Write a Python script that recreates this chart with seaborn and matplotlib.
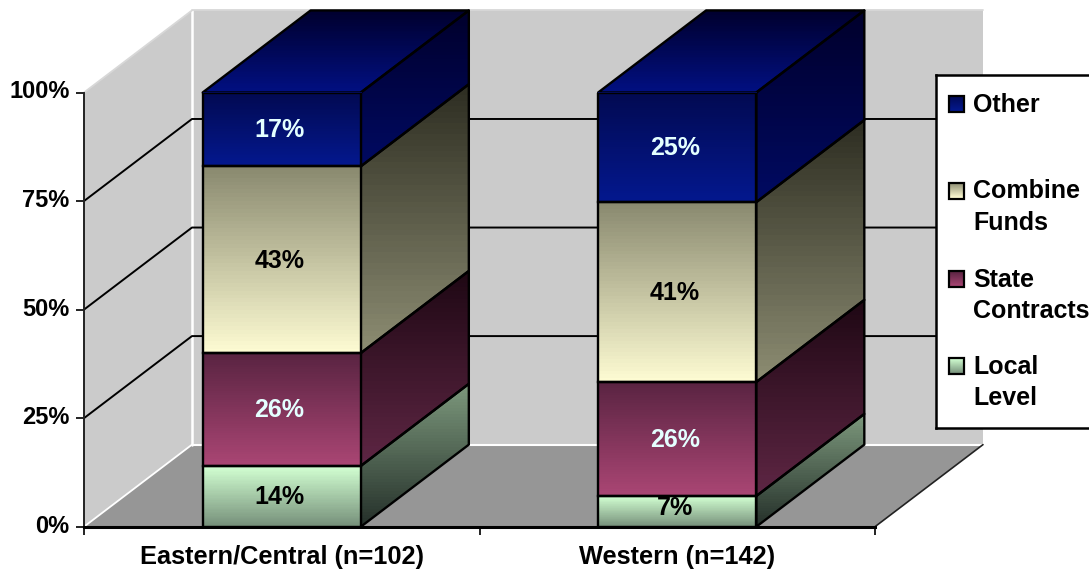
import numpy as np
import matplotlib
matplotlib.use("Agg")
import matplotlib.pyplot as plt
from matplotlib.colors import LinearSegmentedColormap
from matplotlib.patches import Polygon, Rectangle
from matplotlib.transforms import ScaledTranslation
import seaborn as sns

# Survey shares, in percent, bottom segment first
regions = ["Eastern/Central (n=102)", "Western (n=142)"]
series_names = ["Local Level", "State Contracts", "Combine Funds", "Other"]
local_level = [14, 7]
state_contracts = [26, 26]
combine_funds = [43, 41]
other = [17, 25]
percent_ticks = [0, 25, 50, 75, 100]

# (top colour, bottom colour) of each segment's gradients
front_colors = [("#d2ffd2", "#76907a"), ("#5a2442", "#aa4674"),
                ("#8a8a70", "#fdfbd2"), ("#020a52", "#04188e")]
side_colors = [("#7c987c", "#25302a"), ("#1f0814", "#5e2644"),
               ("#2e2e22", "#8c8c72"), ("#00002c", "#000a62")]
label_colors = ["black", "#e4ffff", "black", "#e4ffff"]
top_colors = ("#00002e", "#021082")

WALL = "#cbcbcb"
FLOOR = "#969696"
BAR_WIDTH = 0.4
DEPTH_X = 0.273   # receding offset, in category units
DEPTH_Y = 18.9    # receding offset, in percent units
FONT = "Liberation Sans"

sns.set_theme(style="white")
plt.rcParams["font.family"] = [FONT, "DejaVu Sans"]
plt.rcParams["font.weight"] = "bold"

W, H = 1089, 571
fig = plt.figure(figsize=(W / 100, H / 100), dpi=100, facecolor="white")
ax = fig.add_axes([84 / W, (H - 526.7) / H, 791 / W, 434.2 / H])
ax.patch.set_visible(False)


def gradient_fill(axis, patch, colors, zorder):
    """Fill a patch with a top-to-bottom colour ramp."""
    cmap = LinearSegmentedColormap.from_list("ramp", colors)
    corners = patch.get_path().vertices
    corners = patch.get_patch_transform().transform(corners)
    x0, x1 = corners[:, 0].min(), corners[:, 0].max()
    y0, y1 = corners[:, 1].min(), corners[:, 1].max()
    image = axis.imshow(np.linspace(0, 1, 48)[:, None], cmap=cmap, aspect="auto",
                        extent=(x0, x1, y0, y1), origin="upper",
                        interpolation="nearest", zorder=zorder)
    image.set_clip_path(patch)
    image.set_clip_box(fig.bbox)


def solid(points, **style):
    patch = Polygon(points, closed=True, clip_on=False, **style)
    ax.add_patch(patch)
    return patch


def shaded_face(points, colors, zorder):
    shape = solid(points, facecolor="none", edgecolor="none", zorder=zorder)
    gradient_fill(ax, shape, colors, zorder)
    solid(points, facecolor="none", edgecolor="black", linewidth=1.7,
          joinstyle="round", zorder=zorder + 0.2)


# Walls and floor of the box
x_lo, x_hi = -0.5, 1.5
back_lo, back_hi = x_lo + DEPTH_X, x_hi + DEPTH_X
solid([(x_lo, 0), (back_lo, DEPTH_Y), (back_lo, 100 + DEPTH_Y), (x_lo, 100)],
      facecolor=WALL, edgecolor="none", zorder=0.5)
solid([(back_lo, DEPTH_Y), (back_hi, DEPTH_Y), (back_hi, 100 + DEPTH_Y), (back_lo, 100 + DEPTH_Y)],
      facecolor=WALL, edgecolor="none", zorder=0.5)
solid([(x_lo, 0), (x_hi, 0), (back_hi, DEPTH_Y), (back_lo, DEPTH_Y)],
      facecolor=FLOOR, edgecolor="none", zorder=0.6)

# Light highlights along the wall edges
for xs, ys, col, lw in [([x_lo, back_lo], [0, DEPTH_Y], "white", 1.3),
                        ([back_lo, back_lo], [DEPTH_Y, 100 + DEPTH_Y], "white", 1.8),
                        ([back_lo, back_hi], [DEPTH_Y, DEPTH_Y], "white", 1.5),
                        ([x_lo, back_lo], [100, 100 + DEPTH_Y], "#d8d8d8", 1.3),
                        ([back_lo, back_hi], [100 + DEPTH_Y, 100 + DEPTH_Y], "#d8d8d8", 1.3)]:
    ax.plot(xs, ys, color=col, lw=lw, clip_on=False, zorder=0.8)
ax.plot([x_hi, back_hi], [0, DEPTH_Y], color="#222222", lw=1.2, clip_on=False, zorder=0.8)

# Gridlines run across the side wall and the back wall
for tick in percent_ticks[1:-1]:
    ax.plot([x_lo, back_lo, back_hi], [tick, tick + DEPTH_Y, tick + DEPTH_Y],
            color="black", lw=1.4, clip_on=False, zorder=1)

# Each column is scaled so its segments fill the full 100%
stacked = np.array([local_level, state_contracts, combine_funds, other], dtype=float)
shares = stacked / stacked.sum(axis=0) * 100
bottoms = np.vstack([np.zeros(2), np.cumsum(shares, axis=0)[:-1]])

for row, name in enumerate(series_names):
    before = len(ax.patches)
    sns.barplot(x=regions, y=shares[row], bottom=bottoms[row], order=regions,
                width=BAR_WIDTH, color=front_colors[row][1], saturation=1,
                edgecolor="black", linewidth=0, errorbar=None, ax=ax, zorder=5)
    bars = ax.patches[before:]
    for col, bar in enumerate(bars):
        x0, x1 = bar.get_x(), bar.get_x() + bar.get_width()
        y0, y1 = bar.get_y(), bar.get_y() + bar.get_height()
        # Side face
        shaded_face([(x1, y0), (x1 + DEPTH_X, y0 + DEPTH_Y),
                     (x1 + DEPTH_X, y1 + DEPTH_Y), (x1, y1)], side_colors[row], 3)
        # Lid of the column
        if row == len(series_names) - 1:
            shaded_face([(x0, y1), (x1, y1), (x1 + DEPTH_X, y1 + DEPTH_Y),
                         (x0 + DEPTH_X, y1 + DEPTH_Y)], top_colors, 3)
        # Front face
        gradient_fill(ax, bar, front_colors[row], 6)
        ax.add_patch(Rectangle((x0, y0), x1 - x0, y1 - y0, fill=False,
                               edgecolor="black", linewidth=1.7, zorder=7))
        # Thin segments get their label nudged upward
        nudge = 0.8 if y1 - y0 < 10 else -0.2
        ax.text((x0 + x1) / 2 - 0.006, (y0 + y1) / 2 + nudge, f"{int(stacked[row, col])}%",
                ha="center", va="center", fontsize=18, fontweight="bold",
                color=label_colors[row], zorder=9, clip_on=False)

ax.set_xlim(x_lo, x_hi)
ax.set_ylim(0, 100)

# Axes
sns.despine(ax=ax, top=True, right=True)
ax.spines["left"].set_linewidth(1.4)
ax.spines["left"].set_color("#222222")
ax.spines["bottom"].set_linewidth(2.2)
ax.spines["bottom"].set_color("black")
for spine in ax.spines.values():
    spine.set_zorder(8)
ax.set_xlabel("")
ax.set_ylabel("")
ax.set_yticks(percent_ticks)
ax.set_yticklabels([f"{t}%" for t in percent_ticks], fontsize=17, fontweight="bold", color="black")
ax.set_xticks([x_lo, 0.5, x_hi])
ax.set_xticklabels(["", "", ""])
ax.set_xticks([0, 1], minor=True)
ax.set_xticklabels(regions, minor=True, fontsize=18.3, fontweight="bold", color="black")
ax.tick_params(axis="y", left=True, length=6, width=1.4, color="#222222", pad=4.5)
ax.tick_params(axis="x", which="major", bottom=True, length=6, width=1.4, color="#222222")
ax.tick_params(axis="x", which="minor", bottom=False, length=0, pad=13)
raise_labels = ScaledTranslation(0, 2.2 / 72, fig.dpi_scale_trans)
for label in ax.get_yticklabels():
    label.set_transform(label.get_transform() + raise_labels)

# Legend panel, laid out in pixel units
box_l, box_r, box_t, box_b = 936, 1092, 75, 428
lax = fig.add_axes([box_l / W, (H - box_b) / H, (box_r - box_l) / W, (box_b - box_t) / H],
                   zorder=20, facecolor="white")
lax.set_xticks([])
lax.set_yticks([])
for spine in lax.spines.values():
    spine.set_linewidth(1.8)
    spine.set_color("black")
    spine.set_visible(True)

legend_rows = [(3, ["Other"], 103.5), (2, ["Combine", "Funds"], 190.5),
               (1, ["State", "Contracts"], 279), (0, ["Local", "Level"], 366)]
for idx, lines, y in legend_rows:
    lax.imshow(np.linspace(0, 1, 16)[:, None],
               cmap=LinearSegmentedColormap.from_list("swatch", front_colors[idx]),
               extent=(949, 964, y + 8, y - 8), aspect="auto", origin="upper",
               interpolation="nearest", zorder=2)
    lax.add_patch(Rectangle((949, y - 8), 15, 16, fill=False, edgecolor="black", lw=1.6, zorder=3))
    for n, line in enumerate(lines):
        lax.text(973, y + 1 + n * 31, line, ha="left", va="center", fontsize=18,
                 fontweight="bold", color="black")
lax.set_xlim(box_l, box_r)
lax.set_ylim(box_b, box_t)

fig.savefig("out.png", dpi=100)
